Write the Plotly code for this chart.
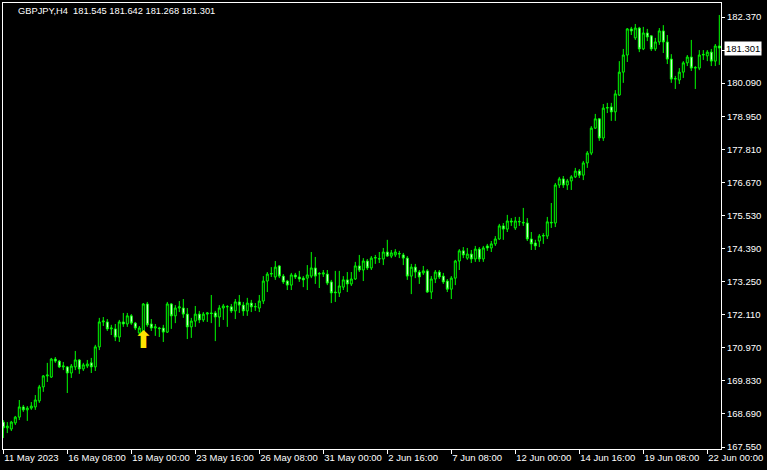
import plotly.graph_objects as go

# GBPJPY H4 candles, bar 0 = 11 May 2023 16:00
open_ = [168.41, 168.21, 168.17, 168.38, 168.58, 168.93, 168.83, 168.89, 168.93, 169.14,
         169.62, 170.00, 169.96, 170.58, 170.51, 170.31, 170.31, 170.10, 170.31, 170.55,
         170.24, 170.34, 170.45, 170.31, 171.00, 171.86, 171.86, 171.62, 171.62, 171.34,
         171.86, 171.79, 172.07, 171.82, 171.48, 171.48, 172.48, 171.79, 171.65, 171.65,
         171.65, 171.51, 172.48, 172.07, 172.34, 172.34, 172.13, 171.69, 171.89, 172.13,
         171.93, 172.13, 172.17, 172.17, 172.03, 172.34, 172.38, 172.38, 172.24, 172.55,
         172.44, 172.24, 172.51, 172.38, 172.34, 172.58, 173.27, 173.51, 173.41, 173.79,
         173.44, 173.27, 173.13, 173.48, 173.41, 173.37, 173.37, 173.44, 173.72, 173.51,
         173.51, 173.51, 173.24, 172.89, 172.86, 173.06, 173.31, 173.17, 173.34, 173.79,
         173.65, 173.96, 173.72, 174.06, 174.03, 174.03, 174.27, 174.13, 174.17, 174.20,
         174.17, 174.06, 173.44, 173.75, 173.58, 173.55, 173.62, 172.89, 173.34, 173.58,
         173.44, 173.27, 172.99, 173.37, 173.96, 174.31, 174.06, 174.20, 174.03, 174.37,
         174.03, 174.48, 174.41, 174.55, 174.72, 175.17, 175.06, 175.34, 175.10, 175.31,
         175.27, 175.27, 174.72, 174.58, 174.65, 174.82, 174.82, 175.27, 175.27, 176.58,
         176.79, 176.58, 176.72, 176.86, 177.06, 176.92, 177.34, 177.68, 178.54, 178.86,
         178.20, 179.23, 179.27, 179.10, 179.68, 180.47, 181.06, 181.96, 181.65, 181.99,
         181.27, 181.82, 181.72, 181.27, 181.51, 181.89, 181.51, 180.92, 180.23, 180.20,
         180.47, 180.79, 180.99, 180.61, 180.61, 181.06, 181.03, 181.16, 180.85, 181.37]
high = [168.48, 168.41, 168.45, 168.62, 169.17, 169.00, 168.96, 169.10, 169.34, 169.69,
        170.03, 170.45, 170.62, 170.65, 170.55, 170.48, 170.34, 170.41, 170.86, 170.58,
        170.45, 170.55, 170.62, 171.07, 172.00, 172.03, 171.96, 171.76, 171.79, 171.93,
        172.17, 172.17, 172.13, 171.86, 171.72, 172.51, 172.55, 171.96, 171.79, 171.69,
        171.76, 172.55, 172.51, 172.44, 172.58, 172.65, 172.34, 172.00, 172.41, 172.24,
        172.20, 172.20, 172.79, 172.24, 172.44, 172.48, 172.44, 172.48, 172.65, 172.79,
        172.55, 172.69, 172.62, 172.51, 172.79, 173.44, 173.58, 173.75, 173.96, 173.82,
        173.51, 173.31, 173.55, 173.55, 173.62, 173.44, 173.82, 174.27, 174.10, 173.58,
        173.65, 173.65, 173.31, 173.62, 173.62, 173.44, 173.58, 173.58, 173.93, 174.17,
        174.06, 174.03, 174.13, 174.17, 174.27, 174.41, 174.69, 174.34, 174.37, 174.31,
        174.24, 174.13, 173.86, 173.86, 173.65, 173.79, 173.68, 173.44, 173.65, 173.65,
        173.55, 173.34, 173.44, 174.00, 174.37, 174.44, 174.41, 174.34, 174.48, 174.44,
        174.48, 174.55, 174.65, 174.82, 175.24, 175.27, 175.55, 175.44, 175.48, 175.48,
        175.79, 175.44, 174.96, 174.69, 174.89, 174.92, 175.48, 175.96, 176.65, 176.86,
        176.89, 176.79, 176.92, 177.17, 177.13, 177.41, 177.75, 178.61, 179.03, 178.89,
        179.37, 179.41, 179.41, 179.85, 180.85, 181.27, 181.99, 182.03, 182.13, 182.03,
        182.03, 181.96, 181.75, 181.65, 181.99, 182.09, 181.75, 181.09, 180.34, 180.61,
        180.85, 181.06, 181.58, 180.68, 181.23, 181.23, 181.23, 181.27, 181.44, 182.44]
low = [167.86, 168.03, 168.10, 168.31, 168.48, 168.76, 168.45, 168.83, 168.83, 169.07,
       169.45, 169.79, 169.93, 170.45, 170.27, 170.20, 169.41, 169.93, 170.20, 170.07,
       170.17, 170.27, 170.10, 170.17, 170.89, 171.72, 171.55, 171.41, 171.20, 171.17,
       171.69, 171.69, 171.76, 171.58, 171.38, 171.41, 171.69, 171.55, 171.38, 171.34,
       171.17, 171.48, 171.62, 171.82, 172.20, 172.00, 171.27, 171.31, 171.69, 171.82,
       171.86, 171.86, 171.82, 171.20, 171.69, 171.93, 171.69, 172.17, 171.96, 172.17,
       172.07, 172.07, 172.20, 172.24, 172.20, 172.48, 172.89, 173.41, 173.31, 173.37,
       173.17, 172.96, 172.96, 173.34, 173.24, 173.06, 172.96, 173.37, 173.17, 173.03,
       173.41, 173.13, 172.51, 172.55, 172.72, 172.96, 172.89, 173.10, 173.31, 173.58,
       173.27, 173.65, 173.65, 173.86, 173.89, 173.82, 174.10, 174.06, 174.10, 174.06,
       173.82, 173.31, 172.82, 173.37, 173.17, 173.48, 172.86, 172.65, 173.20, 173.34,
       173.17, 172.89, 172.65, 173.13, 173.65, 174.06, 174.00, 173.89, 173.93, 173.93,
       173.93, 174.31, 174.27, 174.48, 174.69, 174.69, 174.96, 175.17, 175.03, 175.17,
       175.17, 174.65, 174.34, 174.34, 174.44, 174.55, 174.72, 175.10, 175.13, 176.48,
       176.48, 176.41, 176.41, 176.82, 176.82, 176.75, 177.17, 177.61, 178.51, 178.10,
       178.10, 179.06, 178.79, 178.79, 179.65, 180.10, 180.82, 181.75, 181.58, 181.16,
       181.23, 181.54, 181.20, 181.20, 181.41, 181.13, 180.75, 180.10, 179.89, 180.06,
       180.27, 180.68, 180.51, 179.89, 180.54, 180.89, 180.85, 180.68, 180.68, 180.72]
close = [168.21, 168.27, 168.41, 168.58, 168.93, 168.83, 168.89, 168.96, 169.17, 169.62,
         170.00, 170.03, 170.58, 170.51, 170.31, 170.34, 170.10, 170.34, 170.55, 170.24,
         170.38, 170.41, 170.31, 171.00, 171.86, 171.89, 171.62, 171.65, 171.34, 171.86,
         171.79, 172.07, 171.82, 171.65, 171.65, 172.48, 171.76, 171.65, 171.69, 171.63,
         171.51, 172.48, 172.07, 172.34, 172.38, 172.13, 171.69, 171.89, 172.13, 171.93,
         172.13, 172.17, 172.15, 172.03, 172.34, 172.41, 172.39, 172.24, 172.55, 172.44,
         172.24, 172.51, 172.38, 172.39, 172.58, 173.27, 173.51, 173.53, 173.75, 173.44,
         173.24, 173.13, 173.48, 173.41, 173.34, 173.31, 173.48, 173.72, 173.44, 173.53,
         173.55, 173.20, 172.86, 172.87, 173.10, 173.31, 173.17, 173.34, 173.79, 173.65,
         173.96, 173.72, 174.06, 174.08, 174.04, 174.27, 174.13, 174.24, 174.27, 174.22,
         174.06, 173.44, 173.75, 173.58, 173.41, 173.62, 172.89, 173.34, 173.58, 173.41,
         173.24, 172.99, 173.37, 173.96, 174.31, 174.17, 174.20, 174.03, 174.37, 174.03,
         174.41, 174.41, 174.55, 174.72, 175.17, 175.06, 175.34, 175.31, 175.34, 175.32,
         175.29, 174.72, 174.55, 174.48, 174.82, 174.84, 175.31, 175.29, 176.58, 176.79,
         176.58, 176.72, 176.86, 177.06, 176.92, 177.34, 177.68, 178.54, 178.86, 178.20,
         179.23, 179.25, 179.10, 179.72, 180.47, 181.06, 181.96, 181.89, 181.99, 181.27,
         181.82, 181.68, 181.27, 181.51, 181.89, 181.51, 180.92, 180.23, 180.25, 180.47,
         180.79, 180.99, 180.61, 180.63, 181.06, 181.08, 181.16, 180.85, 181.37, 181.301]

bar_idx = list(range(len(close)))

# time axis labels (bar index -> label)
tick_idx = [0, 16, 32, 48, 64, 80, 96, 112, 128, 144, 160, 176]
tick_labels = ["11 May 2023", "16 May 08:00", "19 May 00:00", "23 May 16:00",
               "26 May 08:00", "31 May 00:00", "2 Jun 16:00", "7 Jun 08:00",
               "12 Jun 00:00", "14 Jun 16:00", "19 Jun 08:00", "22 Jun 00:00"]

price_ticks = [167.55, 168.69, 169.83, 170.97, 172.11, 173.25, 174.39,
               175.53, 176.67, 177.81, 178.95, 180.09, 181.23, 182.37]

# buy signal arrow
signal_idx = [35]
signal_price = [171.16]

title_text = "GBPJPY,H4\u00a0\u00a0181.545 181.642 181.268 181.301"
last_price = 181.301

green = "#00FF00"
font_family = "Liberation Sans, Arial, sans-serif"

fig = go.Figure()

fig.add_trace(go.Candlestick(
    x=bar_idx, open=open_, high=high, low=low, close=close,
    increasing=dict(line=dict(color=green, width=1), fillcolor="black"),
    decreasing=dict(line=dict(color=green, width=1), fillcolor="white"),
    whiskerwidth=0,
    hoverinfo="skip",
))

# arrow glyph for the signal
fig.add_trace(go.Scatter(
    x=signal_idx, y=signal_price, mode="text",
    text=["\u2b06"],
    textposition="middle center",
    textfont=dict(size=24, color="#FFE400", family="DejaVu Sans"),
    hoverinfo="skip",
))

# title in the top-left corner
fig.add_annotation(
    text=title_text, xref="paper", yref="paper", x=0.018, y=0.997,
    xanchor="left", yanchor="top", showarrow=False,
    font=dict(size=9.3, color="white", family=font_family),
)

# current price label on the price axis
fig.add_annotation(
    text=f"{last_price:.3f}", xref="paper", yref="y", x=1.0, y=last_price,
    xanchor="left", yanchor="middle", xshift=3, showarrow=False,
    bgcolor="white", borderpad=1,
    font=dict(size=9.5, color="black", family=font_family),
)

fig.update_layout(
    width=767, height=470,
    margin=dict(l=3, r=46, t=3, b=21),
    paper_bgcolor="black",
    plot_bgcolor="black",
    showlegend=False,
    font=dict(family=font_family, size=9.5, color="white"),
    xaxis=dict(
        range=[-0.075, 179.425],
        rangeslider=dict(visible=False),
        automargin=False,
        showgrid=False, zeroline=False,
        showline=True, linecolor="white", linewidth=1, mirror=True,
        ticks="outside", ticklen=4, tickcolor="white",
        tickvals=tick_idx, ticktext=tick_labels,
        ticklabelposition="outside right",
        tickangle=0,
        tickfont=dict(size=9.5, color="white"),
    ),
    yaxis=dict(
        side="right",
        range=[167.481, 182.853],
        automargin=False,
        showgrid=False, zeroline=False,
        showline=True, linecolor="white", linewidth=1, mirror=True,
        ticks="outside", ticklen=3, tickcolor="white",
        tickvals=price_ticks, tickformat=".3f",
        tickfont=dict(size=9.5, color="white"),
    ),
)

# drop the browser's default page margin so the chart sits at the window corner
fig.write_html("out.html", config={"displayModeBar": False},
               post_script="document.body.style.margin='0';")
